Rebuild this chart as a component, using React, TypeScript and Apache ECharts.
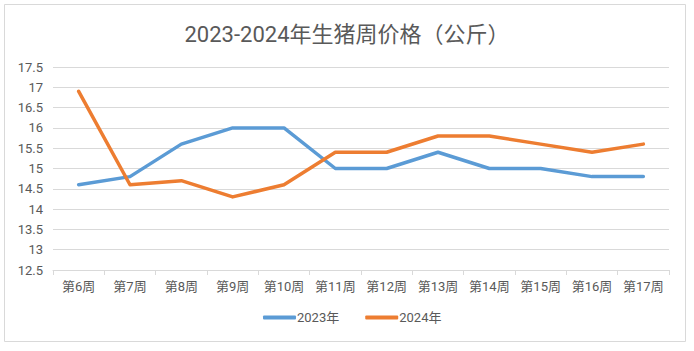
import React, { useEffect, useRef } from "react";
import * as echarts from "echarts";

const categories = ["第6周", "第7周", "第8周", "第9周", "第10周", "第11周", "第12周", "第13周", "第14周", "第15周", "第16周", "第17周"];
const series2023 = [14.6, 14.8, 15.6, 16.0, 16.0, 15.0, 15.0, 15.4, 15.0, 15.0, 14.8, 14.8];
const series2024 = [16.9, 14.6, 14.7, 14.3, 14.6, 15.4, 15.4, 15.8, 15.8, 15.6, 15.4, 15.6];
const seriesNames = ["2023年", "2024年"];
const titleText = "2023-2024年生猪周价格（公斤）";

const FONT = "Roboto, 'Noto Sans CJK SC', sans-serif";
const TEXT = "#595959";
const GRID = "#d9d9d9";

export default function App() {
  const ref = useRef<HTMLDivElement>(null);
  useEffect(() => {
    if (!ref.current) return;
    const chart = echarts.init(ref.current, undefined, { renderer: "svg" });
    chart.setOption({
      animation: false,
      backgroundColor: "#ffffff",
      textStyle: { fontFamily: FONT },
      title: {
        text: titleText,
        left: "center",
        top: 18,
        textStyle: { fontFamily: FONT, fontSize: 22, fontWeight: "normal", color: TEXT },
      },
      graphic: [
        {
          type: "rect",
          shape: { x: 4.5, y: 4.5, width: 681, height: 337 },
          style: { fill: "none", stroke: GRID, lineWidth: 1 },
          silent: true,
        },
      ],
      legend: {
        data: seriesNames,
        bottom: 22,
        left: 258,
        itemWidth: 33,
        itemHeight: 4,
        itemGap: 26,
        icon: "roundRect",
        textStyle: { fontFamily: FONT, fontSize: 13, color: TEXT, padding: [0, 0, 0, -4] },
      },
      grid: { left: 53, right: 25, top: 67, bottom: 81 },
      xAxis: {
        type: "category",
        data: categories,
        boundaryGap: true,
        axisLine: { lineStyle: { color: GRID } },
        axisTick: { show: true, alignWithLabel: false, length: 5, interval: 0, lineStyle: { color: GRID } },
        axisLabel: { color: TEXT, fontSize: 13, margin: 10, interval: 0, fontFamily: FONT },
      },
      yAxis: {
        type: "value",
        min: 12.5,
        max: 17.5,
        interval: 0.5,
        axisLine: { show: false },
        axisTick: { show: false },
        axisLabel: { color: TEXT, fontSize: 13, margin: 10, fontFamily: FONT },
        splitLine: { lineStyle: { color: GRID, width: 1 } },
      },
      series: [
        {
          name: seriesNames[0],
          type: "line",
          data: series2023,
          symbol: "none",
          lineStyle: { color: "#5B9BD5", width: 3.5, cap: "round", join: "round" },
          itemStyle: { color: "#5B9BD5" },
        },
        {
          name: seriesNames[1],
          type: "line",
          data: series2024,
          symbol: "none",
          lineStyle: { color: "#ED7D31", width: 3.5, cap: "round", join: "round" },
          itemStyle: { color: "#ED7D31" },
        },
      ],
    });
    return () => chart.dispose();
  }, []);
  return (
    <div
      ref={ref}
      style={{ position: "absolute", left: 0, top: 0, width: 694, height: 351 }}
    />
  );
}
